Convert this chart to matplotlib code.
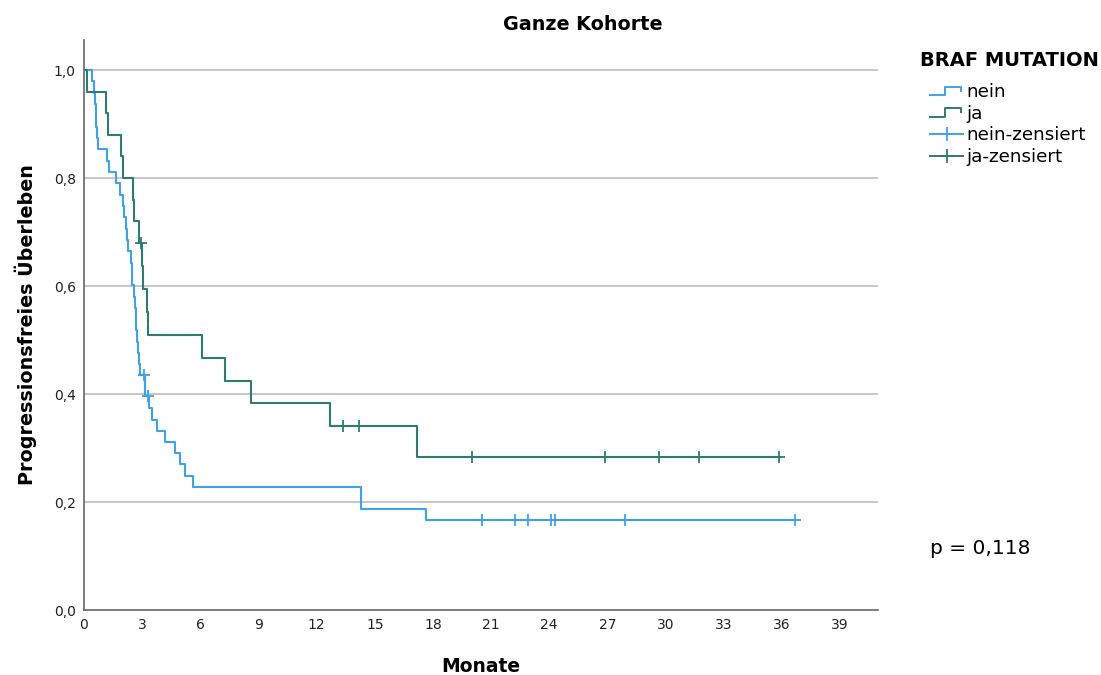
import numpy as np
import matplotlib.pyplot as plt
from matplotlib.lines import Line2D
from matplotlib.legend_handler import HandlerBase

plt.rcParams['font.family'] = ['DejaVu Sans']

# Kaplan-Meier steps: time of event (months) and survival after the event
nein_t = [0, 0.40, 0.50, 0.55, 0.60, 0.64, 0.68, 0.72, 1.17, 1.28, 1.65, 1.86,
          2.03, 2.08, 2.16, 2.22, 2.28, 2.40, 2.46, 2.50, 2.57, 2.62, 2.66,
          2.70, 2.74, 2.78, 2.82, 2.88, 3.14, 3.37, 3.49, 3.76, 4.20, 4.69,
          4.95, 5.20, 5.60, 14.30, 17.66]
nein_s = [1.0, 0.979, 0.958, 0.937, 0.916, 0.895, 0.874, 0.853, 0.832, 0.811,
          0.790, 0.769, 0.748, 0.727, 0.706, 0.685, 0.664, 0.643, 0.622, 0.601,
          0.580, 0.560, 0.539, 0.518, 0.497, 0.476, 0.455, 0.435, 0.397, 0.374,
          0.352, 0.332, 0.312, 0.291, 0.270, 0.249, 0.228, 0.187, 0.166]
nein_end = 36.7
nein_cens = [3.09, 3.30, 20.55, 22.22, 22.92, 24.10, 24.28, 27.89, 36.68]

ja_t = [0, 0.14, 1.13, 1.24, 1.92, 2.00, 2.55, 2.60, 2.85, 3.00, 3.06, 3.23,
        3.32, 6.07, 7.27, 8.64, 12.68, 17.20]
ja_s = [1.0, 0.96, 0.92, 0.88, 0.84, 0.80, 0.76, 0.72, 0.68, 0.6375, 0.595,
        0.5525, 0.51, 0.4675, 0.425, 0.3825, 0.34, 0.283]
ja_end = 35.9
ja_cens = [2.92, 13.37, 14.17, 20.03, 26.86, 29.66, 31.72, 35.84]

x_ticks = list(range(0, 40, 3))
y_ticks = [0.0, 0.2, 0.4, 0.6, 0.8, 1.0]
p_text = "p = 0,118"

c_nein = '#3ea2ea'
c_ja = '#2e7b73'


def surv_at(t, s, x):
    i = np.searchsorted(t, x, side='right') - 1
    return np.asarray(s)[i]


class StepHandler(HandlerBase):
    def create_artists(self, legend, orig_handle, xdescent, ydescent,
                       width, height, fontsize, trans):
        xs = np.array([0.0, 0.45, 0.45, 0.95, 0.95]) * width - xdescent
        ys = np.array([0.15, 0.15, 0.8, 0.8, 0.5]) * height - ydescent
        ln = Line2D(xs, ys, color=orig_handle.get_color(), lw=1.4, transform=trans)
        return [ln]


fig = plt.figure(figsize=(11.01, 6.75), dpi=100)
ax = fig.add_axes([84 / 1101, 65 / 675, 794 / 1101, 570 / 675])

for t, s, end, cens, col in [(nein_t, nein_s, nein_end, nein_cens, c_nein),
                             (ja_t, ja_s, ja_end, ja_cens, c_ja)]:
    ax.step(t + [end], s + [s[-1]], where='post', color=col, lw=1.5, zorder=3)
    ax.plot(cens, surv_at(t, s, cens), ls='none', marker='+', ms=8,
            mew=1.3, color=col, zorder=4)

ax.set_xlim(0, 40.96)
ax.set_ylim(0, 1.0556)
ax.set_xticks(x_ticks)
ax.set_yticks(y_ticks)
ax.set_yticklabels([f"{v:.1f}".replace('.', ',') for v in y_ticks])
ax.tick_params(length=0, labelsize=10, pad=6, colors='#222222')
for v in y_ticks[1:]:
    ax.axhline(v, color='#c8c8c8', lw=1.5, zorder=1)
for sp in ['top', 'right']:
    ax.spines[sp].set_visible(False)
for sp in ['left', 'bottom']:
    ax.spines[sp].set_color('#666666')
    ax.spines[sp].set_linewidth(1.2)

fig.text(583 / 1101, 1 - 25 / 675, "Ganze Kohorte", fontsize=13.8,
         fontweight='bold', ha='center', va='center')
ax.set_xlabel("Monate", fontsize=13.5, fontweight='bold', labelpad=18)
ax.set_ylabel("Progressionsfreies Überleben", fontsize=13.8, fontweight='bold',
              labelpad=12)

fig.text(920 / 1101, 1 - 60 / 675, "BRAF MUTATION", fontsize=14,
         fontweight='bold', ha='left', va='center')

h_nein = Line2D([], [], color=c_nein)
h_ja = Line2D([], [], color=c_ja)
h_nc = Line2D([], [], color=c_nein, marker='+', ms=10, mew=1.3, lw=1.4)
h_jc = Line2D([], [], color=c_ja, marker='+', ms=10, mew=1.3, lw=1.4)
fig.legend([h_nein, h_ja, h_nc, h_jc],
           ["nein", "ja", "nein-zensiert", "ja-zensiert"],
           handler_map={h_nein: StepHandler(), h_ja: StepHandler()},
           loc='upper left', bbox_to_anchor=(930 / 1101, 1 - 83 / 675),
           frameon=False, borderpad=0, borderaxespad=0,
           fontsize=13.2, handlelength=1.8, handletextpad=0.2,
           labelspacing=0.2)

fig.text(930 / 1101, 1 - 548 / 675, p_text, fontsize=14.5, va='center')

fig.savefig("out.png", dpi=100)
